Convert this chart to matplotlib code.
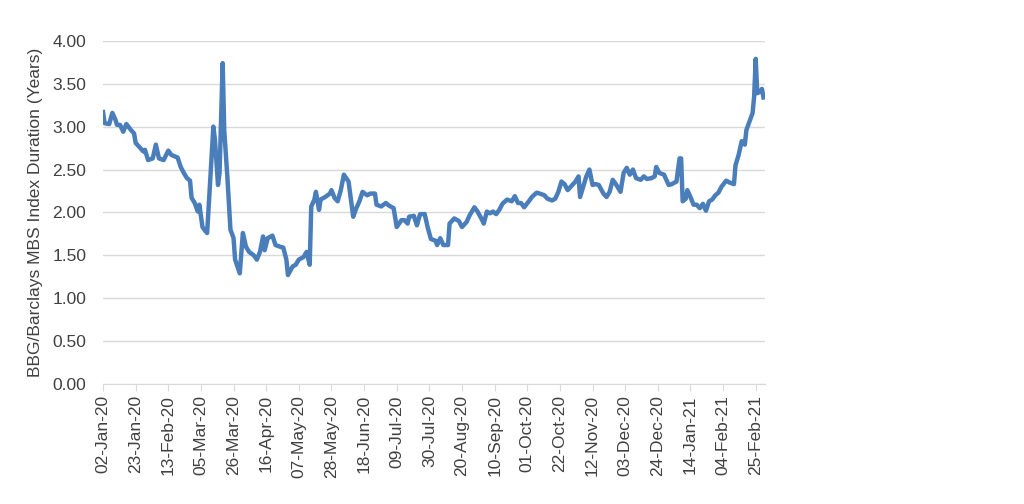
import matplotlib
matplotlib.use("Agg")
import matplotlib.pyplot as plt
import matplotlib.dates as mdates
import pandas as pd

plt.rcParams["font.family"] = ["Liberation Sans", "DejaVu Sans"]

# values (duration in years)
dates = [
    "2020-01-02", "2020-01-03", "2020-01-06", "2020-01-08", "2020-01-10", "2020-01-11",
    "2020-01-13", "2020-01-15", "2020-01-17", "2020-01-20", "2020-01-22", "2020-01-23",
    "2020-01-26", "2020-01-28", "2020-01-29", "2020-01-31", "2020-02-03", "2020-02-05",
    "2020-02-07", "2020-02-10", "2020-02-13", "2020-02-15", "2020-02-19", "2020-02-21",
    "2020-02-23", "2020-02-25", "2020-02-27", "2020-02-28", "2020-03-01", "2020-03-03",
    "2020-03-04", "2020-03-06", "2020-03-08", "2020-03-09", "2020-03-11", "2020-03-13",
    "2020-03-14", "2020-03-16", "2020-03-17", "2020-03-19", "2020-03-20", "2020-03-22",
    "2020-03-24", "2020-03-26", "2020-03-27", "2020-03-30", "2020-04-01", "2020-04-03",
    "2020-04-05", "2020-04-08", "2020-04-10", "2020-04-12", "2020-04-14", "2020-04-15",
    "2020-04-17", "2020-04-20", "2020-04-22", "2020-04-25", "2020-04-27", "2020-04-29",
    "2020-04-30", "2020-05-03", "2020-05-05", "2020-05-07", "2020-05-10", "2020-05-12",
    "2020-05-14", "2020-05-15", "2020-05-17", "2020-05-18", "2020-05-20", "2020-05-21",
    "2020-05-24", "2020-05-27", "2020-05-28", "2020-05-30", "2020-06-01", "2020-06-03",
    "2020-06-05", "2020-06-08", "2020-06-09", "2020-06-11", "2020-06-13", "2020-06-15",
    "2020-06-17", "2020-06-20", "2020-06-22", "2020-06-25", "2020-06-26", "2020-06-29",
    "2020-07-02", "2020-07-04", "2020-07-07", "2020-07-09", "2020-07-12", "2020-07-14",
    "2020-07-16", "2020-07-17", "2020-07-20", "2020-07-22", "2020-07-24", "2020-07-27",
    "2020-07-29", "2020-07-31", "2020-08-03", "2020-08-04", "2020-08-06", "2020-08-08",
    "2020-08-11", "2020-08-12", "2020-08-15", "2020-08-18", "2020-08-20", "2020-08-23",
    "2020-08-25", "2020-08-28", "2020-08-30", "2020-09-02", "2020-09-03", "2020-09-05",
    "2020-09-07", "2020-09-09", "2020-09-11", "2020-09-13", "2020-09-15", "2020-09-18",
    "2020-09-21", "2020-09-23", "2020-09-25", "2020-09-27", "2020-09-29", "2020-10-02",
    "2020-10-04", "2020-10-07", "2020-10-09", "2020-10-12", "2020-10-14", "2020-10-17",
    "2020-10-19", "2020-10-21", "2020-10-23", "2020-10-25", "2020-10-27", "2020-10-30",
    "2020-11-01", "2020-11-03", "2020-11-04", "2020-11-06", "2020-11-08", "2020-11-10",
    "2020-11-12", "2020-11-14", "2020-11-16", "2020-11-19", "2020-11-21", "2020-11-23",
    "2020-11-25", "2020-11-27", "2020-11-30", "2020-12-02", "2020-12-04", "2020-12-06",
    "2020-12-08", "2020-12-10", "2020-12-13", "2020-12-15", "2020-12-17", "2020-12-20",
    "2020-12-22", "2020-12-23", "2020-12-25", "2020-12-28", "2020-12-29", "2020-12-31",
    "2021-01-02", "2021-01-05", "2021-01-07", "2021-01-08", "2021-01-09", "2021-01-11",
    "2021-01-12", "2021-01-14", "2021-01-16", "2021-01-18", "2021-01-20", "2021-01-22",
    "2021-01-24", "2021-01-26", "2021-01-28", "2021-01-30", "2021-02-01", "2021-02-03",
    "2021-02-06", "2021-02-08", "2021-02-11", "2021-02-12", "2021-02-14", "2021-02-16",
    "2021-02-18", "2021-02-19", "2021-02-21", "2021-02-23", "2021-02-24", "2021-02-25",
    "2021-02-26", "2021-02-28", "2021-03-01", "2021-03-02",
]
duration = [
    3.17, 3.04, 3.03, 3.16, 3.08, 3.02,
    3.02, 2.94, 3.03, 2.96, 2.92, 2.81,
    2.75, 2.71, 2.73, 2.61, 2.63, 2.79,
    2.63, 2.61, 2.72, 2.67, 2.64, 2.53,
    2.46, 2.40, 2.37, 2.17, 2.11, 2.01,
    2.09, 1.83, 1.78, 1.76, 2.38, 3.00,
    2.85, 2.32, 2.46, 3.74, 2.96, 2.42,
    1.80, 1.70, 1.45, 1.29, 1.76, 1.60,
    1.54, 1.50, 1.45, 1.54, 1.72, 1.56,
    1.70, 1.73, 1.62, 1.60, 1.59, 1.45,
    1.27, 1.37, 1.39, 1.45, 1.48, 1.54,
    1.39, 2.07, 2.15, 2.24, 2.03, 2.15,
    2.18, 2.22, 2.26, 2.17, 2.13, 2.26,
    2.44, 2.36, 2.22, 1.95, 2.05, 2.13,
    2.24, 2.20, 2.22, 2.22, 2.09, 2.07,
    2.11, 2.08, 2.05, 1.83, 1.91, 1.91,
    1.87, 1.95, 1.96, 1.85, 1.98, 1.98,
    1.82, 1.69, 1.67, 1.62, 1.70, 1.62,
    1.62, 1.87, 1.93, 1.90, 1.83, 1.89,
    1.97, 2.06, 2.01, 1.91, 1.87, 2.01,
    1.99, 2.01, 1.98, 2.03, 2.10, 2.15,
    2.13, 2.19, 2.11, 2.11, 2.06, 2.13,
    2.18, 2.23, 2.22, 2.20, 2.16, 2.14,
    2.16, 2.24, 2.36, 2.33, 2.26, 2.32,
    2.36, 2.42, 2.18, 2.30, 2.42, 2.50,
    2.32, 2.33, 2.32, 2.22, 2.18, 2.24,
    2.38, 2.33, 2.24, 2.46, 2.52, 2.44,
    2.50, 2.40, 2.38, 2.42, 2.39, 2.40,
    2.42, 2.53, 2.46, 2.44, 2.40, 2.32,
    2.33, 2.36, 2.63, 2.63, 2.13, 2.16,
    2.26, 2.18, 2.09, 2.09, 2.05, 2.10,
    2.02, 2.13, 2.15, 2.20, 2.23, 2.30,
    2.37, 2.35, 2.33, 2.55, 2.67, 2.83,
    2.79, 2.96, 3.06, 3.16, 3.35, 3.79,
    3.39, 3.41, 3.44, 3.34,
]
ylabel = "BBG/Barclays MBS Index Duration (Years)"

x = pd.to_datetime(dates)
ticks = pd.date_range("2020-01-02", "2021-02-25", freq="21D")

fig = plt.figure(figsize=(10.24, 5.04), dpi=100)
ax = fig.add_axes([0.1006, 0.238, 0.6465, 0.681])

ax.plot(x, duration, color="#4a7ebb", linewidth=3.2, solid_joinstyle="round")

ax.set_ylim(0, 4)
ax.set_yticks([i * 0.5 for i in range(9)])
ax.yaxis.set_major_formatter(plt.FuncFormatter(lambda v, p: f"{v:.2f}"))
ax.set_xlim(pd.Timestamp("2020-01-02"), pd.Timestamp("2021-03-03"))
ax.set_xticks(ticks)
ax.xaxis.set_major_formatter(mdates.DateFormatter("%d-%b-%y"))
plt.setp(ax.get_xticklabels(), rotation=90, ha="center")

ax.grid(axis="y", color="#d9d9d9", linewidth=1.0)
ax.set_axisbelow(True)
for s in ["top", "right", "left"]:
    ax.spines[s].set_visible(False)
ax.spines["bottom"].set_color("#d9d9d9")
ax.tick_params(axis="y", length=0, labelsize=12.5, colors="#404040", pad=12)
ax.tick_params(axis="x", length=5, color="#d9d9d9", labelsize=12.5,
               labelcolor="#404040", pad=3)
ax.set_ylabel(ylabel, fontsize=12.5, color="#404040")
ax.yaxis.set_label_coords(-0.09, 0.5)

plt.savefig("out.png", dpi=100)
plt.close()
